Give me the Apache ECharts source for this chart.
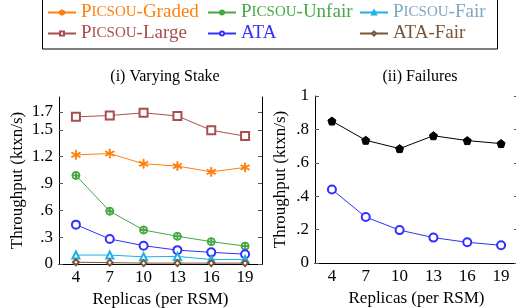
<!DOCTYPE html>
<html>
<head>
<meta charset="utf-8">
<script src="https://cdn.jsdelivr.net/npm/echarts@6/dist/echarts.min.js"></script>
<style>
  html, body { margin: 0; padding: 0; background: #fff; }
  #chart { width: 516px; height: 308px; }
</style>
</head>
<body>
<div id="chart"></div>
<script>
// 数据
const replicas = ['4', '7', '10', '13', '16', '19'];
const picsouGraded = [1.22, 1.235, 1.12, 1.095, 1.03, 1.08];
const picsouUnfair = [0.99, 0.59, 0.38, 0.31, 0.25, 0.20];
const picsouFair = [0.10, 0.10, 0.08, 0.085, 0.05, 0.05];
const picsouLarge = [1.645, 1.66, 1.69, 1.655, 1.495, 1.43];
const ataStake = [0.44, 0.28, 0.205, 0.155, 0.13, 0.11];
const ataFair = [0.02, 0.015, 0.01, 0.01, 0.01, 0.01];
const failuresBlack = [0.85, 0.735, 0.685, 0.762, 0.733, 0.715];
const ataFailures = [0.44, 0.275, 0.197, 0.152, 0.124, 0.106];
const stakeTicks = [0, 0.3, 0.6, 0.9, 1.2, 1.5, 1.7];
const failTicks = [0, 0.2, 0.4, 0.6, 0.8, 1];

const FONT = '"Liberation Serif", "DejaVu Serif", serif';

// 颜色
const C = {
    graded: '#ff7f0e',
    unfair: '#45a845',
    fair: '#1cb0e6',
    fairText: '#7fa6c2',
    large: '#a84e4e',
    ata: '#3030ff',
    ataFair: '#7a5536',
    black: '#000'
};

// 标记符号
const asterisk = 'path://M-0.1,-1L0.1,-1L0.1,1L-0.1,1Z' +
    'M0.816,-0.587L0.916,-0.413L-0.816,0.587L-0.916,0.413Z' +
    'M-0.916,-0.413L-0.816,-0.587L0.916,0.413L0.816,0.587Z';
const oplus = 'path://M0,-1A1,1 0 1,1 0,1A1,1 0 1,1 0,-1Z' +
    'M0,-0.8A0.8,0.8 0 1,0 0,0.8A0.8,0.8 0 1,0 0,-0.8Z' +
    'M-0.1,-0.9L0.1,-0.9L0.1,0.9L-0.1,0.9Z' +
    'M-0.9,-0.1L-0.9,0.1L0.9,0.1L0.9,-0.1Z';
const pentagon = 'path://M0,-1L0.951,-0.309L0.588,0.809L-0.588,0.809L-0.951,-0.309Z';

function fmt(v) {
    if (v === 0) return '0';
    if (v === 1) return '1';
    const s = String(Math.round(v * 10) / 10);
    return s.startsWith('0') ? s.slice(1) : s;
}

function xAx(grid, mirror) {
    return {
        type: 'category', gridIndex: grid, data: replicas,
        position: mirror ? 'top' : 'bottom',
        boundaryGap: true,
        axisLine: { lineStyle: { color: '#000', width: 1 } },
        axisTick: { inside: true, alignWithLabel: true, length: 4, lineStyle: { color: '#555' } },
        axisLabel: { show: !mirror, color: '#000', fontFamily: FONT, fontSize: 17, margin: 5 },
        name: mirror ? '' : 'Replicas (per RSM)',
        nameLocation: 'middle', nameGap: 26,
        nameTextStyle: { color: '#000', fontFamily: FONT, fontSize: 17 },
        splitLine: { show: false }
    };
}

function yAx(grid, mirror, max, ticks, nameGap) {
    return {
        type: 'value', gridIndex: grid, min: 0, max: max,
        position: mirror ? 'right' : 'left',
        axisLine: { show: true, lineStyle: { color: '#000', width: 1 } },
        axisTick: { show: true, inside: true, length: 4, customValues: ticks, lineStyle: { color: '#555' } },
        axisLabel: { show: !mirror, customValues: ticks, formatter: fmt, color: '#000', fontFamily: FONT, fontSize: 17, margin: 6 },
        name: mirror ? '' : 'Throughput (ktxn/s)',
        nameLocation: 'middle', nameGap: nameGap,
        nameTextStyle: { color: '#000', fontFamily: FONT, fontSize: 17 },
        splitLine: { show: false }
    };
}

function line(name, data, color, symbol, size, xi, yi) {
    return {
        name: name, type: 'line', data: data,
        xAxisIndex: xi, yAxisIndex: yi,
        symbol: symbol, symbolSize: size,
        showAllSymbol: true,
        lineStyle: { color: color, width: 1 },
        itemStyle: { color: color, borderColor: color, borderWidth: 1 },
        z: 3
    };
}

function legendItem(name, left, top, color, picsou, label) {
    return {
        data: [name], left: left, top: top, padding: 0,
        itemWidth: 28, itemHeight: 5, itemGap: 4, selectedMode: false,
        formatter: picsou ? '{b|P}{s|ICSOU}{b|' + label + '}' : name,
        textStyle: {
            color: color, fontFamily: FONT, fontSize: 19,
            rich: {
                b: { color: color, fontFamily: FONT, fontSize: 19 },
                s: { color: color, fontFamily: FONT, fontSize: 15 }
            }
        }
    };
}

const option = {
    animation: false,
    backgroundColor: '#fff',
    title: [
        { text: '(i) Varying Stake', left: 160, top: 64, textAlign: 'center',
          textStyle: { fontFamily: FONT, fontSize: 16, fontWeight: 'normal', color: '#000' } },
        { text: '(ii) Failures', left: 415, top: 64, textAlign: 'center',
          textStyle: { fontFamily: FONT, fontSize: 16, fontWeight: 'normal', color: '#000' } }
    ],
    graphic: [{
        type: 'rect', shape: { x: 42.5, y: -2, width: 455, height: 51 },
        style: { fill: 'none', stroke: '#000', lineWidth: 1 }, z: -1
    }],
    legend: [
        legendItem('PICSOU-Graded', 47, 3, C.graded, true, '-Graded'),
        legendItem('PICSOU-Unfair', 207, 3, C.unfair, true, '-Unfair'),
        legendItem('PICSOU-Fair', 359, 3, C.fairText, true, '-Fair'),
        legendItem('PICSOU-Large', 47, 24, C.large, true, '-Large'),
        legendItem('ATA', 207, 24, C.ata, false),
        legendItem('ATA-Fair', 359, 24, C.ataFair, false)
    ],
    grid: [
        { left: 59, top: 97, width: 203, height: 167, outerBoundsMode: 'none', containLabel: false },
        { left: 315, top: 96, width: 203, height: 167, outerBoundsMode: 'none', containLabel: false }
    ],
    xAxis: [xAx(0, false), xAx(0, true), xAx(1, false), xAx(1, true)],
    yAxis: [
        yAx(0, false, 1.867, stakeTicks, 33),
        yAx(0, true, 1.867, stakeTicks, 0),
        yAx(1, false, 1, failTicks, 26),
        yAx(1, true, 1, failTicks, 0)
    ],
    series: [
        line('PICSOU-Large', picsouLarge, C.large, 'emptyRect', 8, 0, 0),
        line('PICSOU-Graded', picsouGraded, C.graded, asterisk, 9, 0, 0),
        line('PICSOU-Unfair', picsouUnfair, C.unfair, oplus, 8, 0, 0),
        line('ATA', ataStake, C.ata, 'emptyCircle', 8, 0, 0),
        line('PICSOU-Fair', picsouFair, C.fair, 'emptyTriangle', 7, 0, 0),
        line('ATA-Fair', ataFair, C.ataFair, 'emptyDiamond', 6, 0, 0),
        line('Failures', failuresBlack, C.black, pentagon, 8, 2, 2),
        line('ATA', ataFailures, C.ata, 'emptyCircle', 8, 2, 2)
    ]
};

const chart = echarts.init(document.getElementById('chart'));
chart.setOption(option);
</script>
</body>
</html>
